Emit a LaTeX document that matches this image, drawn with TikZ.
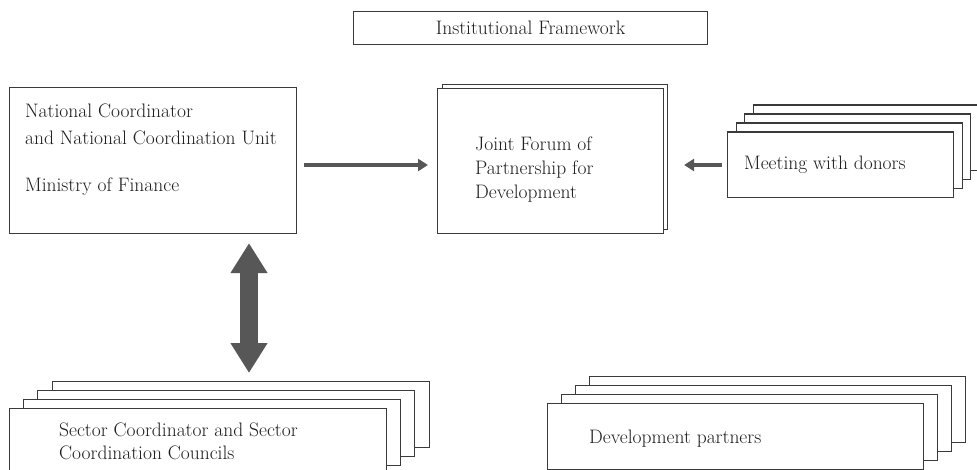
\documentclass[tikz,border=0pt]{standalone}
\usetikzlibrary{arrows.meta,calc}
\definecolor{edge}{HTML}{3A3A3A}
\definecolor{arr}{HTML}{575757}
\definecolor{ink}{HTML}{1E1E1E}
\begin{document}
\begin{tikzpicture}[x=1pt,y=-1pt,
  box/.style={draw=edge, line width=1.1pt, fill=white, anchor=north west, inner sep=0pt},
  txt/.style={font=\fontsize{19.5}{24}\selectfont, text=ink, inner sep=0pt, align=left},
  harrow/.style={draw=arr, line width=4.5pt, -{Triangle[width=12pt,length=10pt]}},
  dblarrow/.style={draw=arr, line width=18pt, {Triangle[width=35pt,length=30pt]}-{Triangle[width=35pt,length=30pt]}}
]
\clip (0,0) rectangle (977,470);
\fill[white] (0,0) rectangle (977,470);

% title
\node[box, minimum width=354pt, minimum height=33pt, font=\fontsize{19.5}{24}\selectfont, text=ink] (title) at (353,11) {Institutional Framework};

% national coordinator
\node[box, minimum width=287pt, minimum height=146pt] (nc) at (9,87) {};
\node[txt, anchor=north west, font=\fontsize{19.5}{27}\selectfont] (nctext) at (25,103.8)
  {National Coordinator\\and National Coordination Unit\\[20pt]Ministry of Finance};

% joint forum
\node[box, minimum width=225.5pt, minimum height=145pt] (jf2) at (441.5,84) {};
\node[box, minimum width=226pt, minimum height=145pt] (jf1) at (437,88) {};
\node[txt, anchor=north west] (jftext) at (475,136.3)
  {Joint Forum of\\Partnership for\\Development};

% meeting with donors
\node[box, minimum width=226pt, minimum height=65.5pt] (md4) at (752.5,104.5) {};
\node[box, minimum width=226pt, minimum height=65.5pt] (md3) at (744,113.5) {};
\node[box, minimum width=226pt, minimum height=65.5pt] (md2) at (735.5,122.5) {};
\node[box, minimum width=226pt, minimum height=65.5pt] (md1) at (727,131.5) {};
\node[txt, anchor=base west] (mdtext) at (744,169.5) {Meeting with donors};

% sector coordinator
\node[box, minimum width=377pt, minimum height=66pt] (sc4) at (51.5,381) {};
\node[box, minimum width=377pt, minimum height=66pt] (sc3) at (37.3,390) {};
\node[box, minimum width=377pt, minimum height=66pt] (sc2) at (23.3,399) {};
\node[box, minimum width=377pt, minimum height=66pt] (sc1) at (9,408) {};
\node[txt, anchor=north west, font=\fontsize{19.5}{22.5}\selectfont] (sctext) at (59,422.8)
  {Sector Coordinator and Sector\\Coordination Councils};

% development partners
\node[box, minimum width=376pt, minimum height=66pt] (dp4) at (589,376) {};
\node[box, minimum width=376pt, minimum height=66pt] (dp3) at (575,385) {};
\node[box, minimum width=376pt, minimum height=66pt] (dp2) at (561,394) {};
\node[box, minimum width=376pt, minimum height=66pt] (dp1) at (547,403) {};
\node[txt, anchor=base west] (dptext) at (589,443) {Development partners};

% connectors
\coordinate (ay) at (0,165);
\coordinate (dx) at (249,0);
\draw[harrow, shorten <=7pt, shorten >=9pt] (nc.east |- ay) -- (jf1.west |- ay);
\draw[harrow, shorten <=5pt, shorten >=16pt] (md1.west |- ay) -- (jf2.east |- ay);
\draw[dblarrow, shorten <=9pt, shorten >=8pt] (nc.south -| dx) -- (sc4.north -| dx);
\end{tikzpicture}
\end{document}
